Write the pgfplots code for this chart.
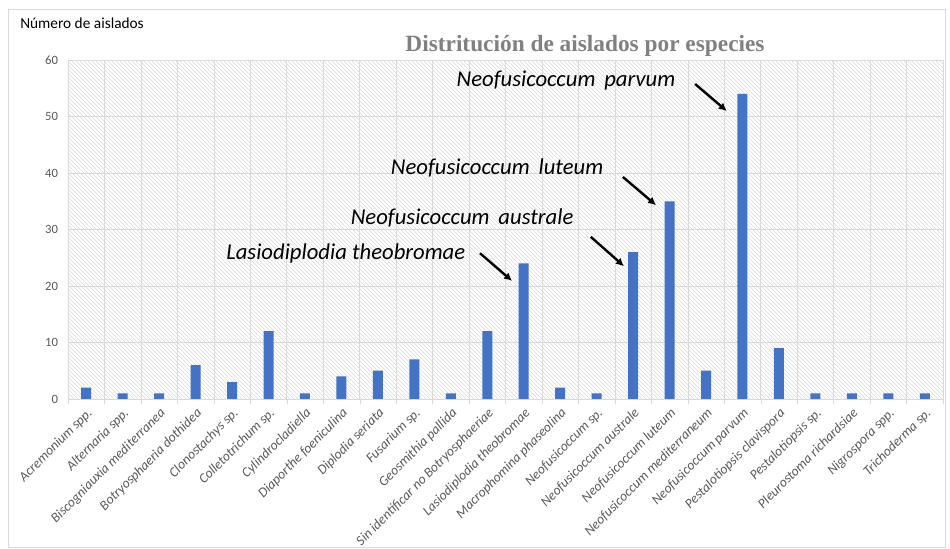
\documentclass[border=0pt]{standalone}
\usepackage{fontspec}
\setmainfont{Carlito}
\newfontfamily\titlefont{Liberation Serif}
\usepackage{pgfplots}
\pgfplotsset{compat=1.18}
\usetikzlibrary{patterns,arrows.meta}
\definecolor{barblue}{RGB}{68,114,196}
\definecolor{gridgray}{RGB}{217,217,217}
\definecolor{ticktext}{RGB}{89,89,89}
\def\px{0.75pt}
\begin{document}
\begin{tikzpicture}
\useasboundingbox ({-68*\px},{-150*\px}) rectangle ({882*\px},{399*\px});
\draw[gridgray] ({-60*\px},{-148*\px}) rectangle ({877*\px},{390*\px});
\begin{axis}[
    at={(0,0)}, anchor=south west,
    scale only axis,
    width=656.25pt, height=254.25pt,
    ybar, bar width=7.5pt,
    xmin=-0.5, xmax=23.5,
    ymin=0, ymax=60,
    ytick={0,10,...,60},
    xtick={0,...,23},
    xticklabels={Acremonium spp., Alternaria spp., Biscogniauxia mediterranea, Botryosphaeria dothidea, Clonostachys sp., Colletotrichum sp., Cylindrocladiella, Diaporthe foeniculina, Diplodia seriata, Fusarium sp., Geosmithia pallida, Sin identificar no Botryosphaeriae, Lasiodiplodia theobromae, Macrophomina phaseolina, Neofusicoccum sp., Neofusicoccum australe, Neofusicoccum luteum, Neofusicoccum mediterraneum, Neofusicoccum parvum, Pestalotiopsis clavispora, Pestalotiopsis sp., Pleurostoma richardsiae, Nigrospora spp., Trichoderma sp.},
    minor xtick={-0.5,0.5,...,23.5},
    xminorgrids, ymajorgrids,
    major x tick style={draw=none},
    minor x tick style={gridgray},
    minor tick length=4pt,
    major y tick style={draw=none},
    minor grid style={gridgray},
    major grid style={gridgray},
    axis line style={draw=none},
    axis x line*=bottom,
    axis y line*=left,
    axis background/.style={pattern=north west lines, pattern color=gray!28},
    x tick label style={rotate=45, anchor=north east, font=\fontsize{10.3}{11}\selectfont\itshape, text=ticktext, inner sep=1pt},
    y tick label style={font=\fontsize{9.5}{10}\selectfont, text=ticktext, xshift=-4pt},
    /pgf/number format/assume math mode=true,
    clip=false,
]
\addplot[fill=barblue, draw=none] coordinates {
(0,2) (1,1) (2,1) (3,6) (4,3) (5,12) (6,1) (7,4) (8,5) (9,7) (10,1) (11,12)
(12,24) (13,2) (14,1) (15,26) (16,35) (17,5) (18,54) (19,9) (20,1) (21,1) (22,1) (23,1)};
\draw[gridgray] (axis cs:-0.5,0) -- (axis cs:23.5,0);
\node[font=\fontsize{17}{19}\selectfont\itshape] at (axis cs:13.16,56.3) {Neofusicoccum\, parvum};
\node[font=\fontsize{17}{19}\selectfont\itshape] at (axis cs:11.27,40.9) {Neofusicoccum\, luteum};
\node[font=\fontsize{17}{19}\selectfont\itshape] at (axis cs:10.31,32.0) {Neofusicoccum\, australe};
\node[font=\fontsize{17}{19}\selectfont\itshape] at (axis cs:7.12,25.8) {Lasiodiplodia theobromae};
\draw[-{Latex[length=6pt,width=6pt]}, line width=1.8pt] (axis cs:16.70,55.75) -- (axis cs:17.57,50.97);
\draw[-{Latex[length=6pt,width=6pt]}, line width=1.8pt] (axis cs:14.72,39.3) -- (axis cs:15.63,34.3);
\draw[-{Latex[length=6pt,width=6pt]}, line width=1.8pt] (axis cs:13.84,28.7) -- (axis cs:14.75,23.5);
\draw[-{Latex[length=6pt,width=6pt]}, line width=1.8pt] (axis cs:10.80,25.8) -- (axis cs:11.68,20.9);
\end{axis}
\node[font=\titlefont\bfseries\fontsize{17.5}{20}\selectfont, text=gray] at ({517*\px},{353*\px}) {Distritución de aislados por especies};
\node[font=\fontsize{11.5}{13}\selectfont, anchor=west, inner sep=0pt] at ({-48*\px},{376*\px}) {Número de aislados};
\end{tikzpicture}
\end{document}
